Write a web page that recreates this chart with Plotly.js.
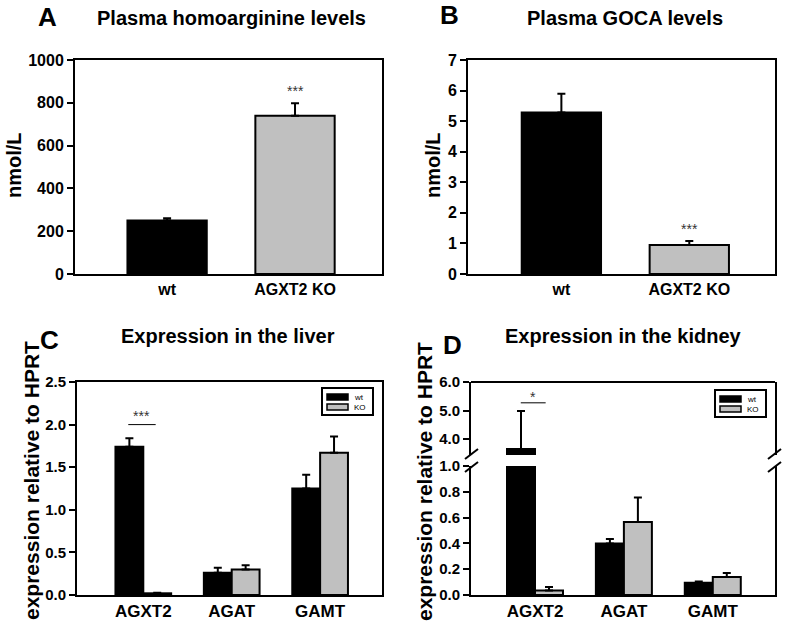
<!DOCTYPE html>
<html>
<head>
<meta charset="utf-8">
<script src="https://cdn.plot.ly/plotly-3.0.1.min.js"></script>
<style>
  html, body { margin: 0; padding: 0; background: #fff; }
  #chart { width: 787px; height: 623px; }
</style>
</head>
<body>
<div id="chart"></div>
<script>
"use strict";

// plasma levels (panels A, B)
var plasmaGroups = ["wt", "AGXT2 KO"];
var homoargMean = [250, 740];
var homoargErr = [10, 58];
var gocaMean = [5.28, 0.95];
var gocaErr = [0.62, 0.13];

// expression relative to HPRT (panels C, D)
var genes = ["AGXT2", "AGAT", "GAMT"];
var seriesNames = ["wt", "KO"];
var liverWt = [1.74, 0.26, 1.25];
var liverWtErr = [0.10, 0.06, 0.16];
var liverKo = [0.02, 0.30, 1.67];
var liverKoErr = [0.005, 0.05, 0.19];
var kidneyWt = [3.65, 0.40, 0.095];
var kidneyWtErr = [1.33, 0.035, 0.01];
var kidneyKo = [0.035, 0.565, 0.14];
var kidneyKoErr = [0.027, 0.19, 0.03];

var W = 787, H = 623;
var FONT = "Liberation Sans, Arial, sans-serif";
var BLACK = "#000";
var GREY = "#c0c0c0";

function px(x) { return x / W; }
function py(y) { return 1 - y / H; }

function idx(arr) { return arr.map(function (_, i) { return i; }); }

function upErr(arr) {
    return { type: "data", symmetric: false, array: arr, arrayminus: arr.map(function () { return 0; }),
             color: "#000", thickness: 2, width: 4 };
}

function plasmaTrace(mean, err, xa, ya) {
    return {
        type: "bar", x: idx(plasmaGroups), y: mean, xaxis: xa, yaxis: ya,
        width: 0.62, showlegend: false,
        marker: { color: [BLACK, GREY], line: { color: "#000", width: 2 } },
        error_y: upErr(err)
    };
}

function exprTrace(name, vals, err, colour, xa, ya) {
    return {
        type: "bar", name: name, x: idx(genes), y: vals, xaxis: xa, yaxis: ya,
        showlegend: false,
        marker: { color: colour, line: { color: "#000", width: 2 } },
        error_y: upErr(err)
    };
}

var data = [
    plasmaTrace(homoargMean, homoargErr, "x", "y"),
    plasmaTrace(gocaMean, gocaErr, "x2", "y2"),
    exprTrace(seriesNames[0], liverWt, liverWtErr, BLACK, "x3", "y3"),
    exprTrace(seriesNames[1], liverKo, liverKoErr, GREY, "x3", "y3"),
    exprTrace(seriesNames[0], kidneyWt, kidneyWtErr, BLACK, "x4", "y4"),
    exprTrace(seriesNames[1], kidneyKo, kidneyKoErr, GREY, "x4", "y4"),
    // upper part of the broken axis
    exprTrace(seriesNames[0], kidneyWt, kidneyWtErr, BLACK, "x4", "y5"),
    exprTrace(seriesNames[1], kidneyKo, kidneyKoErr, GREY, "x4", "y5")
];

function xAxis(domain, range, labels, anchor, mirror, size) {
    return {
        domain: domain, range: range, anchor: anchor, fixedrange: true,
        tickvals: idx(labels), ticktext: labels, ticks: "",
        showline: true, linecolor: "#000", linewidth: 2, mirror: mirror,
        showgrid: false, zeroline: false,
        tickfont: { family: FONT, size: size, color: "#000", weight: "bold" }
    };
}

function yAxis(domain, range, dtick, fmt, anchor, size) {
    return {
        domain: domain, range: range, anchor: anchor, fixedrange: true,
        dtick: dtick, tick0: 0, tickformat: fmt,
        ticks: "outside", ticklen: 6, tickwidth: 2, tickcolor: "#000",
        showline: true, linecolor: "#000", linewidth: 2, mirror: true,
        showgrid: false, zeroline: false,
        tickfont: { family: FONT, size: size, color: "#000", weight: "bold" }
    };
}

function text(t, x, y, size, extra) {
    var a = {
        text: t, xref: "paper", yref: "paper", x: px(x), y: py(y),
        xanchor: "center", yanchor: "middle", showarrow: false,
        font: { family: FONT, size: size, color: "#000", weight: "bold" }
    };
    for (var k in extra) a[k] = extra[k];
    return a;
}

function stars(t, xa, ya, x, y) {
    return {
        text: t, xref: xa, yref: ya, x: x, y: y, showarrow: false,
        xanchor: "center", yanchor: "middle",
        font: { family: FONT, size: 14, color: "#333" }
    };
}

function seg(x0, y0, x1, y1, w) {
    return { type: "line", xref: "paper", yref: "paper",
             x0: px(x0), y0: py(y0), x1: px(x1), y1: py(y1),
             line: { color: "#000", width: w || 2 } };
}

function rect(x0, y0, x1, y1, fill, w) {
    return { type: "rect", xref: "paper", yref: "paper",
             x0: px(x0), y0: py(y0), x1: px(x1), y1: py(y1),
             fillcolor: fill, line: { color: "#000", width: w } };
}

// small boxed legend, left/top corner at (x, y) in pixels
function legendBox(x, y, shapes, annots) {
    shapes.push(rect(x, y, x + 51, y + 27, "#fff", 2));
    var colours = [BLACK, GREY];
    for (var i = 0; i < seriesNames.length; i++) {
        var top = y + 6 + i * 10;
        shapes.push(rect(x + 5, top, x + 26, top + 6, colours[i], 1.5));
        annots.push({
            text: seriesNames[i], xref: "paper", yref: "paper",
            x: px(x + 30), y: py(top + 3), xanchor: "left", yanchor: "middle",
            showarrow: false, font: { family: FONT, size: 8, color: "#000" }
        });
    }
}

var annotations = [
    text("A", 47, 17, 26),
    text("B", 450, 15, 26),
    text("C", 49, 340, 26),
    text("D", 452, 345, 26),
    text("Plasma homoarginine levels", 232, 18, 20),
    text("Plasma GOCA levels", 625, 18, 20),
    text("Expression in the liver", 228, 336, 20),
    text("Expression in the kidney", 623, 336, 20),
    text("nmol/L", 14, 165, 20, { textangle: -90 }),
    text("nmol/L", 433, 165, 20, { textangle: -90 }),
    text("expression relative to HPRT", 31, 481, 21, { textangle: -90 }),
    text("expression relative to HPRT", 424, 481, 21, { textangle: -90 }),
    stars("***", "x", "y", 1, 855),
    stars("***", "x2", "y2", 1, 1.46),
    stars("***", "x3", "y3", -0.02, 2.1),
    stars("*", "x4", "y5", -0.02, 5.47)
];

var shapes = [
    // significance bars
    { type: "line", xref: "x3", yref: "y3", x0: -0.17, x1: 0.14, y0: 2.0, y1: 2.0,
      line: { color: "#000", width: 1 } },
    { type: "line", xref: "x4", yref: "y5", x0: -0.16, x1: 0.12, y0: 5.27, y1: 5.27,
      line: { color: "#000", width: 1 } },
    // top of the kidney frame
    { type: "line", xref: "x4 domain", yref: "y5 domain", x0: 0, x1: 1, y0: 1, y1: 1,
      line: { color: "#000", width: 2 } },
    // axis break marks
    seg(465, 459, 478, 449), seg(465, 472, 478, 462),
    seg(768, 459, 781, 449), seg(768, 472, 781, 462)
];

legendBox(322, 388, shapes, annotations);
legendBox(715, 390, shapes, annotations);

var layout = {
    width: W, height: H,
    margin: { l: 0, r: 0, t: 0, b: 0 },
    paper_bgcolor: "#fff", plot_bgcolor: "#fff",
    showlegend: false,
    barmode: "group", bargap: 0.37, bargroupgap: 0,
    xaxis: xAxis([px(75), px(382)], [-0.72, 1.68], plasmaGroups, "y", true, 16),
    yaxis: yAxis([py(274), py(60)], [0, 1000], 200, "d", "x", 16),
    xaxis2: xAxis([px(468), px(775)], [-0.73, 1.67], plasmaGroups, "y2", true, 16),
    yaxis2: yAxis([py(274), py(60)], [0, 7], 1, "d", "x2", 16),
    xaxis3: xAxis([px(77), px(382)], [-0.75, 2.70], genes, "y3", true, 17),
    yaxis3: yAxis([py(595), py(382)], [0, 2.5], 0.5, ".1f", "x3", 15),
    xaxis4: xAxis([px(471), px(775)], [-0.72, 2.70], genes, "y4", false, 17),
    yaxis4: yAxis([py(595), py(466)], [0, 1.0], 0.2, ".1f", "x4", 15),
    yaxis5: yAxis([py(455), py(382)], [3.44, 6.0], 1, ".1f", "x4", 15),
    annotations: annotations,
    shapes: shapes
};

Plotly.newPlot("chart", data, layout, { staticPlot: true });
</script>
</body>
</html>
